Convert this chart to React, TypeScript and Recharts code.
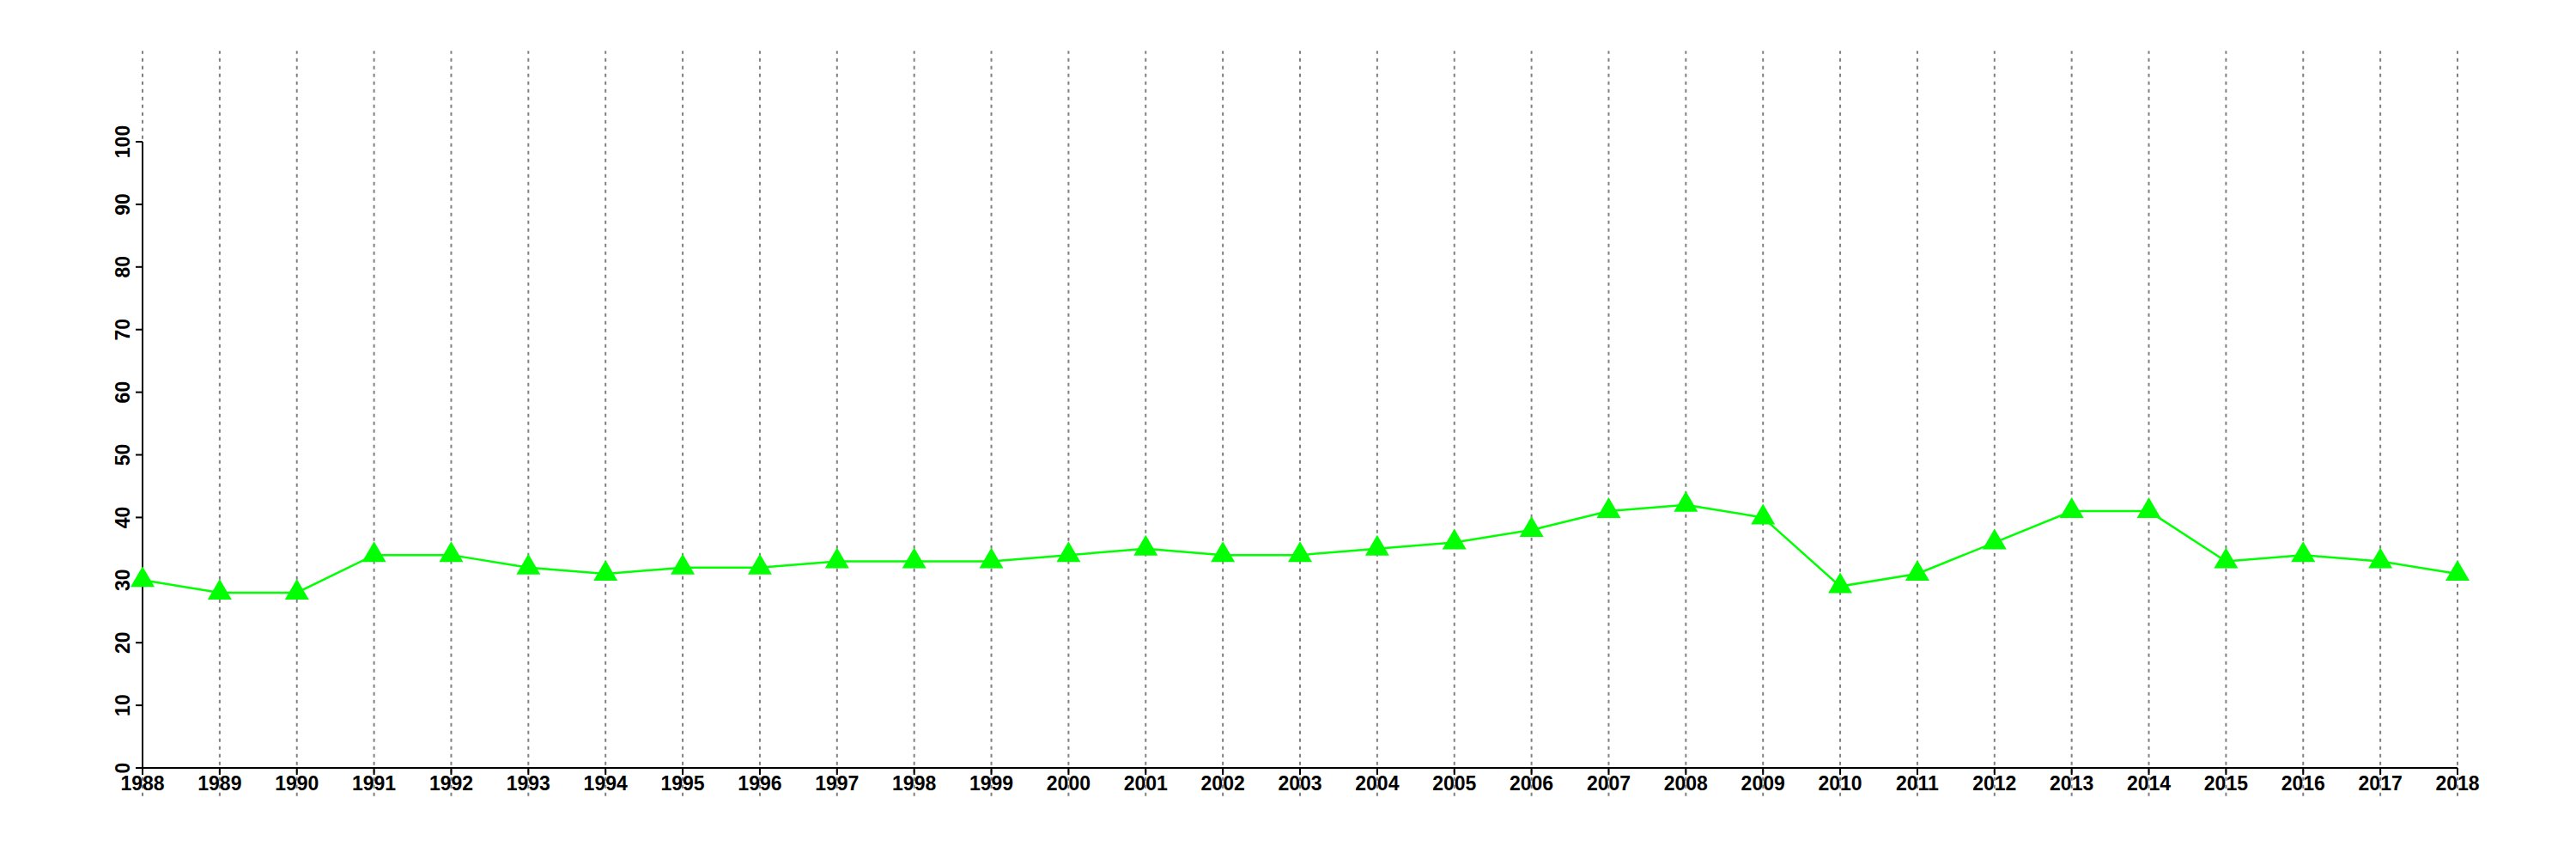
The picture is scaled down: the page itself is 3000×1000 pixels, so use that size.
import { LineChart, Line, XAxis, YAxis, ReferenceLine } from "recharts";

const years = [
  1988, 1989, 1990, 1991, 1992, 1993, 1994, 1995, 1996, 1997, 1998, 1999, 2000,
  2001, 2002, 2003, 2004, 2005, 2006, 2007, 2008, 2009, 2010, 2011, 2012, 2013,
  2014, 2015, 2016, 2017, 2018,
];
const values = [
  30, 28, 28, 34, 34, 32, 31, 32, 32, 33, 33, 33, 34, 35, 34, 34, 35, 36, 38,
  41, 42, 40, 29, 31, 36, 41, 41, 33, 34, 33, 31,
];
const yTicks = [0, 10, 20, 30, 40, 50, 60, 70, 80, 90, 100];
// grid lines run past the plot area, in data units
const gridBottom = -4.5;
const gridTop = 114.5;

const data = years.map((year, i) => ({ year, value: values[i] }));

const FONT = "'Liberation Sans', Arial, Helvetica, sans-serif";

function XTick({ x, y, payload }: any) {
  return (
    <text
      x={x}
      y={y}
      dy={16}
      textAnchor="middle"
      fontFamily={FONT}
      fontWeight="bold"
      fontSize={23}
      fill="#000"
    >
      {payload.value}
    </text>
  );
}

function YTick({ x, y, payload }: any) {
  return (
    <text
      x={x}
      y={y}
      textAnchor="middle"
      transform={`rotate(-90, ${x}, ${y})`}
      fontFamily={FONT}
      fontWeight="bold"
      fontSize={23}
      fill="#000"
    >
      {payload.value}
    </text>
  );
}

function Triangle({ cx, cy }: any) {
  if (cx == null || cy == null) return null;
  const w = 28;
  const h = 24;
  const pts = `${cx - w / 2},${cy + h / 3} ${cx + w / 2},${cy + h / 3} ${cx},${cy - (2 * h) / 3}`;
  return <polygon points={pts} fill="#00ff00" />;
}

export default function App() {
  return (
    <div style={{ position: "absolute", left: 0, top: 0, width: 3000, height: 1000, background: "#fff" }}>
      <LineChart
        width={3000}
        height={1000}
        data={data}
        margin={{ top: 165, right: 138, bottom: 76, left: 106 }}
      >
        {years.map((yr) => (
          <ReferenceLine
            key={yr}
            segment={[
              { x: yr, y: gridBottom },
              { x: yr, y: gridTop },
            ]}
            ifOverflow="visible"
            stroke="#808080"
            strokeWidth={2}
            strokeDasharray="4 5"
          />
        ))}
        <XAxis
          dataKey="year"
          type="number"
          domain={[1988, 2018]}
          ticks={years}
          interval={0}
          height={30}
          tick={<XTick />}
          tickSize={8}
          tickMargin={2}
          axisLine={{ stroke: "#000", strokeWidth: 2 }}
          tickLine={{ stroke: "#000", strokeWidth: 2 }}
        />
        <YAxis
          type="number"
          domain={[0, 100]}
          ticks={yTicks}
          interval={0}
          width={60}
          tick={<YTick />}
          tickSize={8}
          tickMargin={7}
          axisLine={{ stroke: "#000", strokeWidth: 2 }}
          tickLine={{ stroke: "#000", strokeWidth: 2 }}
        />
        <Line
          type="linear"
          dataKey="value"
          stroke="#00ff00"
          strokeWidth={2.5}
          dot={<Triangle />}
          activeDot={false}
          isAnimationActive={false}
        />
      </LineChart>
    </div>
  );
}
